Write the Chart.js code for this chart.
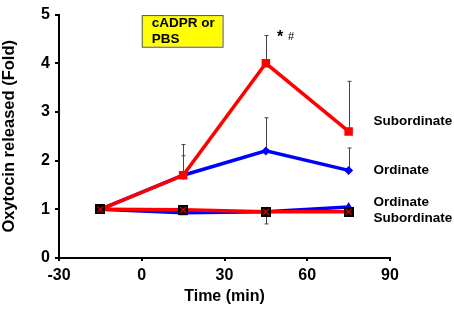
<!DOCTYPE html>
<html>
<head>
<meta charset="utf-8">
<script src="https://cdn.jsdelivr.net/npm/chart.js@4"></script>
<style>
  body { margin: 0; background: #fff; }
  #wrap { width: 454px; height: 311px; }
</style>
</head>
<body>
<div id="wrap"><canvas id="oxy-chart"></canvas></div>
<script>
const times = [-15, 15, 45, 75];

// cADPR groups
const subCadpr = [1.0, 1.7, 4.0, 2.6];
const subCadprErr = [0, 0.63, 0.57, 1.03];
const ordCadpr = [1.0, 1.7, 2.2, 1.8];
const ordCadprErr = [0, 0.4, 0.68, 0.46];

// PBS groups
const ordPbs = [1.0, 0.93, 0.95, 1.05];
const subPbs = [1.0, 0.99, 0.95, 0.95];
const subPbsErrDown = [0, 0, 0.25, 0];

const xTicks = [-30, 0, 30, 60, 90];
const yTicks = [0, 1, 2, 3, 4, 5];

// text on the right side: [label, x (min), y (fold)]
const sideLabels = [
    ['Subordinate', 84, 2.8],
    ['Ordinate', 84, 1.8],
    ['Ordinate', 84, 1.14],
    ['Subordinate', 84, 0.82]
];

const FONT = '"Liberation Sans", Arial, sans-serif';

// black square with red cross for PBS subordinate
function crossBox() {
    const c = document.createElement('canvas');
    c.width = 10; c.height = 10;
    const g = c.getContext('2d');
    g.fillStyle = '#000';
    g.fillRect(0, 0, 10, 10);
    g.strokeStyle = '#e00';
    g.lineWidth = 1.2;
    g.beginPath();
    g.moveTo(2, 2); g.lineTo(8, 8);
    g.moveTo(8, 2); g.lineTo(2, 8);
    g.stroke();
    return c;
}

const toXY = vals => vals.map((v, i) => ({ x: times[i], y: v }));

// error bars (drawn before datasets so markers sit on top)
const errorBars = {
    id: 'errorBars',
    beforeDatasetsDraw(chart) {
        const { ctx, scales: { x, y } } = chart;
        ctx.save();
        ctx.strokeStyle = '#444';
        ctx.lineWidth = 1;
        const bar = (t, from, to) => {
            const px = Math.round(x.getPixelForValue(t)) + 0.5;
            const a = y.getPixelForValue(from), b = y.getPixelForValue(to);
            ctx.beginPath();
            ctx.moveTo(px, a); ctx.lineTo(px, b);
            ctx.moveTo(px - 2, b); ctx.lineTo(px + 2, b);
            ctx.stroke();
        };
        times.forEach((t, i) => {
            if (subCadprErr[i]) bar(t, subCadpr[i], subCadpr[i] + subCadprErr[i]);
            if (ordCadprErr[i]) bar(t, ordCadpr[i], ordCadpr[i] + ordCadprErr[i]);
            if (subPbsErrDown[i]) bar(t, subPbs[i], subPbs[i] - subPbsErrDown[i]);
        });
        ctx.restore();
    }
};

// annotations: yellow box, significance marks, group labels
const annotations = {
    id: 'annotations',
    afterDatasetsDraw(chart) {
        const { ctx, scales: { x, y } } = chart;
        ctx.save();
        const bx = x.getPixelForValue(0), by = y.getPixelForValue(4.99);
        const bw = x.getPixelForValue(29.3) - bx, bh = y.getPixelForValue(4.34) - by;
        ctx.fillStyle = '#ffff00';
        ctx.fillRect(bx, by, bw, bh);
        ctx.strokeStyle = '#555';
        ctx.lineWidth = 1;
        ctx.strokeRect(bx + 0.5, by + 0.5, bw, bh);
        ctx.fillStyle = '#000';
        ctx.font = 'bold 13.5px ' + FONT;
        ctx.textBaseline = 'middle';
        ctx.textAlign = 'left';
        ctx.fillText('cADPR or', bx + 10, by + 8);
        ctx.fillText('PBS', bx + 10, by + 24);

        ctx.font = 'bold 16px ' + FONT;
        ctx.fillText('*', x.getPixelForValue(49), y.getPixelForValue(4.52));
        ctx.font = '11px ' + FONT;
        ctx.fillText('#', x.getPixelForValue(53), y.getPixelForValue(4.55));

        ctx.font = 'bold 13.5px ' + FONT;
        sideLabels.forEach(([txt, tx, ty]) => {
            ctx.fillText(txt, x.getPixelForValue(tx), y.getPixelForValue(ty));
        });
        ctx.restore();
    }
};

new Chart(document.querySelector('#oxy-chart').getContext('2d'), {
    type: 'line',
    data: {
        datasets: [
            {
                label: 'Subordinate PBS',
                data: toXY(subPbs),
                borderColor: '#ff0000',
                borderWidth: 3.5,
                pointStyle: crossBox(),
                pointRadius: 5
            },
            {
                label: 'Subordinate cADPR',
                data: toXY(subCadpr),
                borderColor: '#ff0000',
                backgroundColor: '#ff0000',
                borderWidth: 3.5,
                pointStyle: 'rect',
                pointRadius: 6,
                pointBorderWidth: 0
            },
            {
                label: 'Ordinate PBS',
                data: toXY(ordPbs),
                borderColor: '#0000ff',
                backgroundColor: '#0000ff',
                borderWidth: 3.5,
                pointStyle: 'triangle',
                pointRadius: 5,
                pointBorderWidth: 0
            },
            {
                label: 'Ordinate cADPR',
                data: toXY(ordCadpr),
                borderColor: '#0000ff',
                backgroundColor: '#0000ff',
                borderWidth: 3.5,
                pointStyle: 'rectRot',
                pointRadius: 4.5,
                pointBorderWidth: 0
            }
        ]
    },
    options: {
        responsive: true,
        maintainAspectRatio: false,
        animation: false,
        events: [],
        layout: { padding: { top: 9, right: 64, left: 0, bottom: 0 } },
        plugins: { legend: { display: false }, tooltip: { enabled: false } },
        scales: {
            x: {
                type: 'linear',
                min: -30, max: 90,
                afterBuildTicks: s => { s.ticks = xTicks.map(v => ({ value: v })); },
                afterFit: s => { s.height = 53; },
                border: { display: true, color: '#000', width: 2 },
                grid: { display: true, drawOnChartArea: false, drawTicks: true, tickLength: 3, color: '#000', lineWidth: 2 },
                ticks: { color: '#000', padding: 5, font: { family: FONT, size: 16, weight: 'bold' } },
                title: { display: true, text: 'Time (min)', color: '#000', padding: { top: 0, bottom: 5 }, font: { family: FONT, size: 16, weight: 'bold' } }
            },
            y: {
                min: 0, max: 5,
                afterBuildTicks: s => { s.ticks = yTicks.map(v => ({ value: v })); },
                afterFit: s => { s.width = 59; },
                border: { display: true, color: '#000', width: 2 },
                grid: { display: true, drawOnChartArea: false, drawTicks: true, tickLength: 4, color: '#000', lineWidth: 2 },
                ticks: { color: '#000', padding: 5, font: { family: FONT, size: 16, weight: 'bold' } },
                title: { display: true, text: 'Oxytocin released (Fold)', color: '#000', padding: { top: 0, bottom: 0 }, font: { family: FONT, size: 16.5, weight: 'bold' } }
            }
        }
    },
    plugins: [errorBars, annotations]
});
</script>
</body>
</html>
